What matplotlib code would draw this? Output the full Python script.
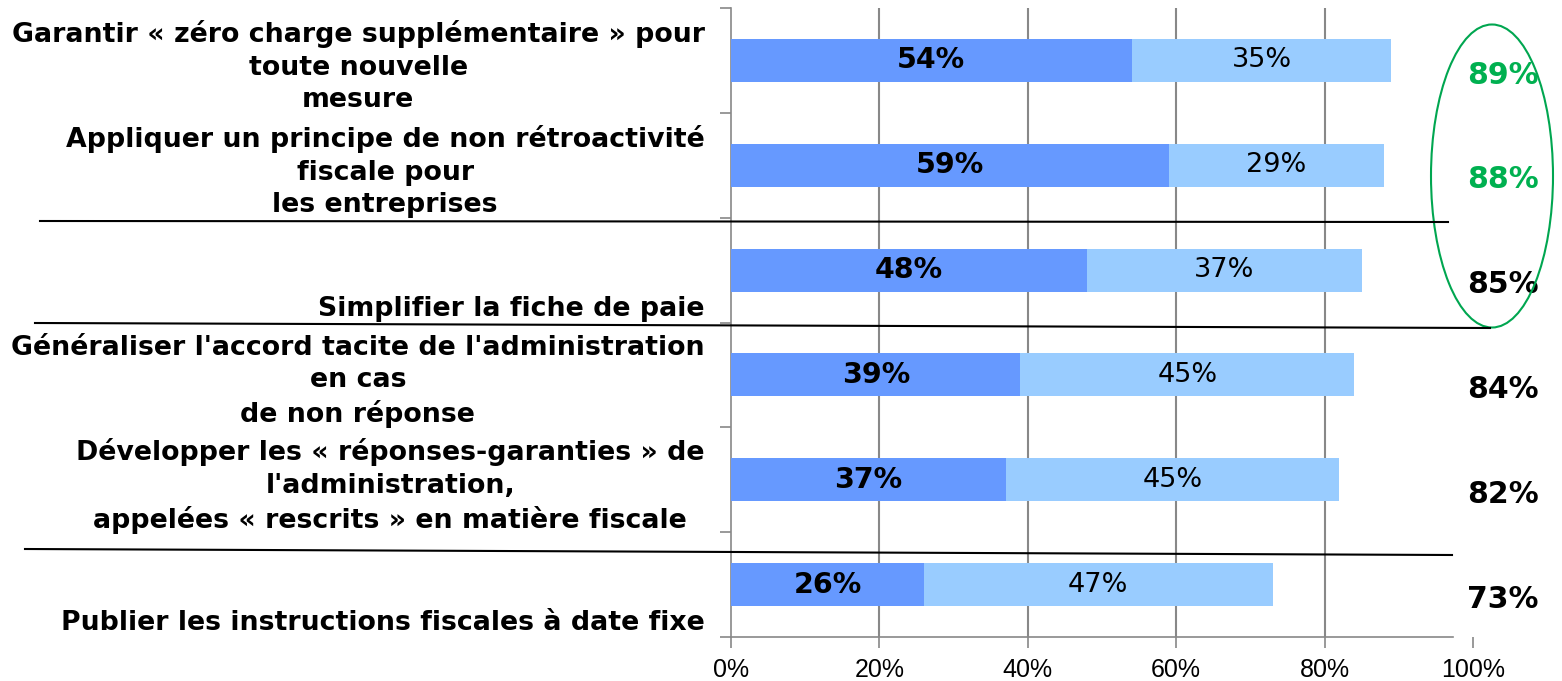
"""Stacked horizontal bars: support for simplification measures."""

import matplotlib
matplotlib.use("Agg")
import matplotlib.pyplot as plt
from matplotlib.lines import Line2D
from matplotlib.patches import Ellipse

labels = [
    "Garantir « zéro charge supplémentaire » pour\ntoute nouvelle\nmesure",
    "Appliquer un principe de non rétroactivité\nfiscale pour\nles entreprises",
    "\n\nSimplifier la fiche de paie",
    "Généraliser l'accord tacite de l'administration\nen cas\nde non réponse",
    "Développer les « réponses-garanties » de\nl'administration,\nappelées « rescrits » en matière fiscale",
    "\n\nPublier les instructions fiscales à date fixe",
]
tout_a_fait = [54, 59, 48, 39, 37, 26]
plutot = [35, 29, 37, 45, 45, 47]
totals = [89, 88, 85, 84, 82, 73]
total_colors = ["#00B050", "#00B050", "black", "black", "black", "black"]
xticks = [0, 20, 40, 60, 80, 100]

DARK = "#6699FF"
LIGHT = "#99CCFF"
GREEN = "#00A650"

fig = plt.figure(figsize=(15.62, 6.81), dpi=100)
ax = fig.add_axes([731 / 1562, 44 / 681, 742 / 1562, 629 / 681])

y = list(range(len(labels)))
ax.barh(y, tout_a_fait, height=0.41, color=DARK, zorder=3)
ax.barh(y, plutot, left=tout_a_fait, height=0.41, color=LIGHT, zorder=3)

for i, (a, b, t, c) in enumerate(zip(tout_a_fait, plutot, totals, total_colors)):
    ax.text(a / 2, i, f"{a}%", ha="center", va="center", fontsize=20.5,
            fontweight="bold", zorder=4)
    ax.text(a + b / 2, i, f"{b}%", ha="center", va="center", fontsize=19.5,
            zorder=4)
    ax.text(104.0, i + 0.14, f"{t}%", ha="center", va="center", fontsize=21.5,
            fontweight="bold", color=c, clip_on=False)

ax.set_xlim(0, 100)
ax.set_ylim(len(labels) - 0.5, -0.5)
ax.set_xticks(xticks)
ax.set_xticklabels([f"{v}%" for v in xticks], fontsize=18,
                   family="Liberation Sans")
ax.set_yticks(y)
ax.set_yticklabels(labels, fontsize=19.3, fontweight="bold",
                   multialignment="center", linespacing=1.33)
ax.set_yticks([i - 0.5 for i in range(len(labels) + 1)], minor=True)
ax.tick_params(axis="y", which="major", length=0, pad=19)
ax.tick_params(axis="y", which="minor", length=8, color="#888888", width=1.2)
ax.tick_params(axis="x", length=8, color="#888888", width=1.2, pad=7)

for v in xticks[1:-1]:
    ax.axvline(v, color="#888888", linewidth=1.5, zorder=1)

for side in ("top", "right"):
    ax.spines[side].set_visible(False)
for side in ("left", "bottom"):
    ax.spines[side].set_color("#888888")
    ax.spines[side].set_linewidth(1.2)
ax.spines["bottom"].set_bounds(0, 97.3)

# separators between groups of measures
W, H = 1562, 681
for (x0, y0), (x1, y1) in [((40, 221), (1448, 222)),
                           ((35, 323), (1490, 328)),
                           ((25, 549), (1452, 555))]:
    fig.add_artist(Line2D([x0 / W, x1 / W], [1 - y0 / H, 1 - y1 / H],
                          transform=fig.transFigure, color="black", linewidth=1.5))

fig.add_artist(Ellipse((1492 / W, 1 - 176 / H), 122 / W, 303 / H,
                       transform=fig.transFigure, fill=False,
                       edgecolor=GREEN, linewidth=1.5))

fig.savefig("out.png", dpi=100)
